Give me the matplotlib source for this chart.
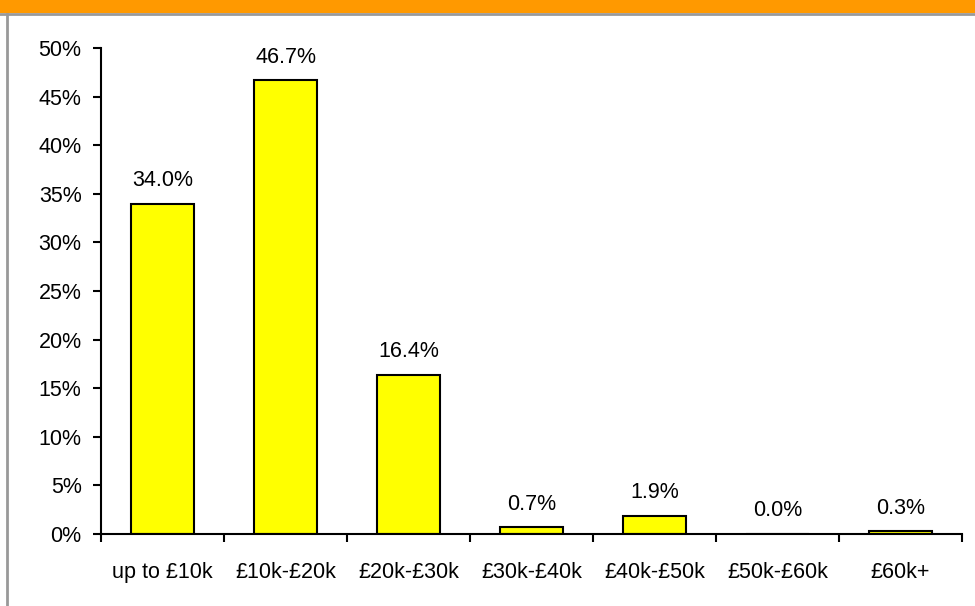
import matplotlib.pyplot as plt
from matplotlib.patches import Rectangle
from matplotlib.lines import Line2D
from matplotlib.ticker import PercentFormatter

# salary bands and share of respondents (%)
bands = ["up to £10k", "£10k-£20k", "£20k-£30k", "£30k-£40k",
         "£40k-£50k", "£50k-£60k", "£60k+"]
shares = [34.0, 46.7, 16.4, 0.7, 1.9, 0.0, 0.3]

plt.rcParams["font.family"] = ["Liberation Sans", "DejaVu Sans"]

W, H = 975, 606
fig = plt.figure(figsize=(W / 100, H / 100), dpi=100)
fig.patch.set_facecolor("white")

# --- orange header band + grey frame lines ---
fig.patches.append(Rectangle((0, (H - 13) / H), 1, 13 / H, transform=fig.transFigure,
                             facecolor="#FF9900", edgecolor="none"))
fig.lines.append(Line2D([0, 1], [(H - 14) / H] * 2, transform=fig.transFigure,
                        color="#999999", linewidth=2))
fig.lines.append(Line2D([7 / W, 7 / W], [0, (H - 14) / H], transform=fig.transFigure,
                        color="#999999", linewidth=2))

# --- axes ---
ax = fig.add_axes([101 / W, (H - 534) / H, (962 - 101) / W, (534 - 48) / H])
x = range(len(bands))
ax.bar(x, shares, width=0.52, color="#FFFF00", edgecolor="black", linewidth=1.5)

fs = 15.5
for xi, v in zip(x, shares):
    ax.annotate(f"{v:.1f}%", (xi, v), xytext=(0, 9), textcoords="offset points",
                ha="center", va="bottom", fontsize=fs)

ax.set_xlim(-0.5, len(bands) - 0.5)
ax.set_ylim(0, 50)
ax.set_yticks(range(0, 51, 5))
ax.yaxis.set_major_formatter(PercentFormatter(decimals=0))
ax.set_xticks([i - 0.5 for i in range(len(bands) + 1)], minor=False)
ax.set_xticklabels([])
ax.set_xticks(list(x), minor=True)
ax.set_xticklabels(bands, minor=True)
ax.tick_params(axis="x", which="minor", length=0, pad=20, labelsize=fs)
ax.tick_params(axis="x", which="major", length=6, width=1.5, direction="out")
ax.tick_params(axis="y", length=6, width=1.5, direction="out", pad=8, labelsize=fs)

for side in ["top", "right"]:
    ax.spines[side].set_visible(False)
ax.spines["left"].set_linewidth(1.5)
ax.spines["bottom"].set_linewidth(1.5)

plt.savefig("out.png", dpi=100)
